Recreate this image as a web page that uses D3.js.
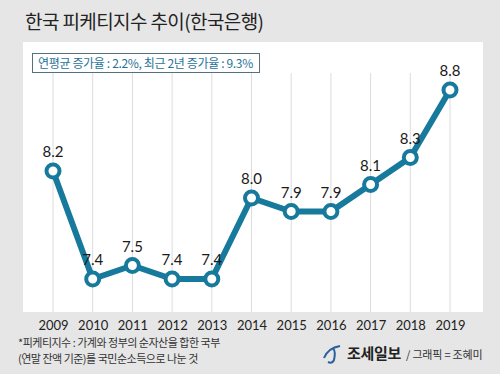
<!DOCTYPE html>
<html><head><meta charset="utf-8">
<script src="https://cdn.jsdelivr.net/npm/d3@7"></script>
<style>body{margin:0;background:#e6e6e6;}svg{display:block;font-family:"Noto Sans CJK KR","Noto Sans",sans-serif;}</style>
</head><body>
<script>
const years = ["2009","2010","2011","2012","2013","2014","2015","2016","2017","2018","2019"];
const values = [8.2,7.4,7.5,7.4,7.4,8.0,7.9,7.9,8.1,8.3,8.8];
const labels = ["8.2","7.4","7.5","7.4","7.4","8.0","7.9","7.9","8.1","8.3","8.8"];
const title = "한국 피케티지수 추이(한국은행)";
const note = "연평균 증가율 : 2.2%, 최근 2년 증가율 : 9.3%";
const foot1 = "*피케티지수 : 가계와 정부의 순자산을 합한 국부";
const foot2 = "(연말 잔액 기준)를 국민순소득으로 나눈 것";

const W=500,H=374;
const svg=d3.select("body").append("svg").attr("width",W).attr("height",H);
svg.append("rect").attr("width",W).attr("height",H).attr("fill","#e6e6e6");
svg.append("text").attr("x",25).attr("y",29).attr("font-size",19).attr("fill","#222").attr("letter-spacing",-0.6).text(title);
// panel
svg.append("rect").attr("x",23).attr("y",42).attr("width",460).attr("height",270).attr("fill","#fff");

const x=d3.scalePoint().domain(years).range([53,450]);
const y=d3.scaleLinear().domain([7.4,8.8]).range([279,90]);

// grid
svg.append("g").selectAll("line").data(years).join("line")
 .attr("x1",d=>x(d)).attr("x2",d=>x(d)).attr("y1",73).attr("y2",312)
 .attr("stroke","#dcdcdc").attr("stroke-width",1);

// note box
svg.append("rect").attr("x",32.5).attr("y",53.5).attr("width",227).attr("height",19)
 .attr("fill","#fff").attr("stroke","#55707e").attr("stroke-width",1);
svg.append("text").attr("x",38).attr("y",68).attr("font-size",12).attr("fill","#1f7399").attr("letter-spacing",-0.35).text(note);

const color="#177a9c";
const line=d3.line().x((d,i)=>x(years[i])).y(d=>y(d));
svg.append("path").datum(values).attr("d",line).attr("fill","none")
 .attr("stroke",color).attr("stroke-width",6).attr("stroke-linejoin","round");
svg.append("g").selectAll("circle").data(values).join("circle")
 .attr("cx",(d,i)=>x(years[i])).attr("cy",d=>y(d)).attr("r",6.5)
 .attr("fill","#fff").attr("stroke",color).attr("stroke-width",4);
svg.append("g").selectAll("text").data(values).join("text")
 .attr("x",(d,i)=>x(years[i])).attr("y",d=>y(d)-14).attr("text-anchor","middle")
 .attr("font-size",15).attr("fill","#1a1a1a").attr("font-family","Lato, 'Noto Sans', sans-serif")
 .text((d,i)=>labels[i]);

// x axis labels
const ax=svg.append("g").attr("transform","translate(0,311)").call(d3.axisBottom(x).tickSize(0).tickPadding(10));
ax.select(".domain").remove();
ax.selectAll("text").attr("font-size",13).attr("fill","#222").attr("font-family","Lato, 'Noto Sans', sans-serif");

svg.append("text").attr("x",18).attr("y",347).attr("font-size",11).attr("fill","#333").attr("letter-spacing",-0.5).text(foot1);
svg.append("text").attr("x",18).attr("y",363).attr("font-size",11).attr("fill","#333").attr("letter-spacing",-0.5).text(foot2);

// logo
svg.append("path").attr("d","M324,358 Q328,348 340,346 M333,348 Q336,352 334,360 Q332,364 328,362")
 .attr("fill","none").attr("stroke","#2a5f9e").attr("stroke-width",2);
svg.append("text").attr("x",347).attr("y",359).attr("font-size",15).attr("font-weight","bold").attr("fill","#222").attr("letter-spacing",-0.3).text("조세일보");
svg.append("text").attr("x",406).attr("y",359).attr("font-size",11).attr("fill","#333").attr("letter-spacing",-0.2).text("/ 그래픽 = 조혜미");
</script>
</body></html>
